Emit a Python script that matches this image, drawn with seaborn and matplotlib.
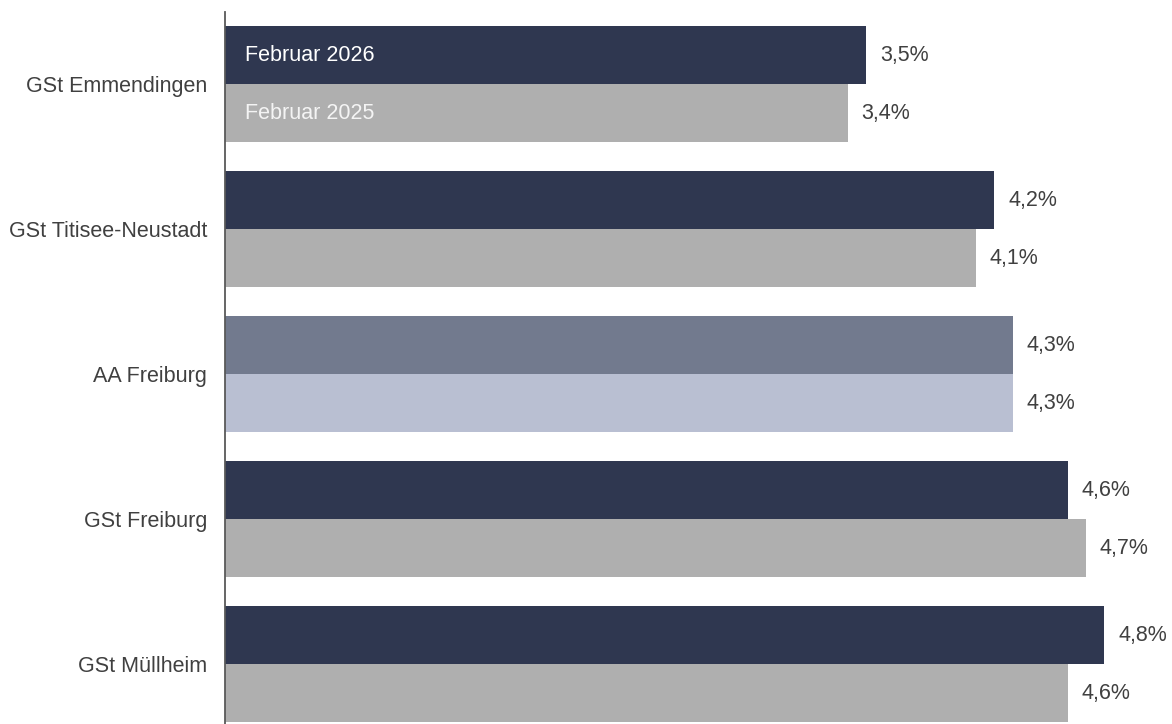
import pandas as pd
import matplotlib.pyplot as plt
import seaborn as sns

# data
regions = ['GSt Emmendingen', 'GSt Titisee-Neustadt', 'AA Freiburg', 'GSt Freiburg', 'GSt Müllheim']
feb_2026 = [3.5, 4.2, 4.3, 4.6, 4.8]
feb_2025 = [3.4, 4.1, 4.3, 4.7, 4.6]
periods = ['Februar 2026', 'Februar 2025']

df = pd.DataFrame({
    'region': regions * 2,
    'quote': feb_2026 + feb_2025,
    'period': [periods[0]] * len(regions) + [periods[1]] * len(regions),
})

dark = '#2f3750'
grey = '#afafaf'
text_col = '#404040'
fs = 15.5

sns.set_style('white')
plt.rcParams['font.family'] = ['Liberation Sans', 'DejaVu Sans']

fig = plt.figure(figsize=(11.72, 7.24), dpi=100)
ax = fig.add_axes([225 / 1172, -0.0173, 1 - 225 / 1172, 1.0014])

sns.barplot(data=df, y='region', x='quote', hue='period', order=regions, hue_order=periods,
            palette=[dark, grey], saturation=1, linewidth=0, width=0.8, legend=False, ax=ax)

# AA Freiburg highlighted in lighter blue-grey
aa = regions.index('AA Freiburg')
ax.containers[0][aa].set_facecolor('#727a8e')
ax.containers[1][aa].set_facecolor('#b9bfd2')

for cont in ax.containers:
    vals = [b.get_width() for b in cont]
    ax.bar_label(cont, labels=[f'{v:.1f}%'.replace('.', ',') for v in vals],
                 padding=10, fontsize=fs, color=text_col)

# period names written into the first pair of bars
b26 = ax.containers[0][0]
b25 = ax.containers[1][0]
ax.text(0.11, b26.get_y() + b26.get_height() / 2, periods[0], color='white',
        fontsize=fs, va='center', ha='left')
ax.text(0.11, b25.get_y() + b25.get_height() / 2, periods[1], color='#f4f4f4',
        fontsize=fs, va='center', ha='left')

ax.set_xlim(0, 5.17)
ax.set_ylim(4.5, -0.5)
ax.set_xlabel('')
ax.set_ylabel('')
ax.set_xticks([])
ax.tick_params(axis='y', length=0, pad=13, labelsize=fs, labelcolor=text_col)
for s in ['top', 'right', 'bottom']:
    ax.spines[s].set_visible(False)
ax.spines['left'].set_color('#595959')
ax.spines['left'].set_linewidth(1.3)

fig.savefig('out.png', dpi=100)
